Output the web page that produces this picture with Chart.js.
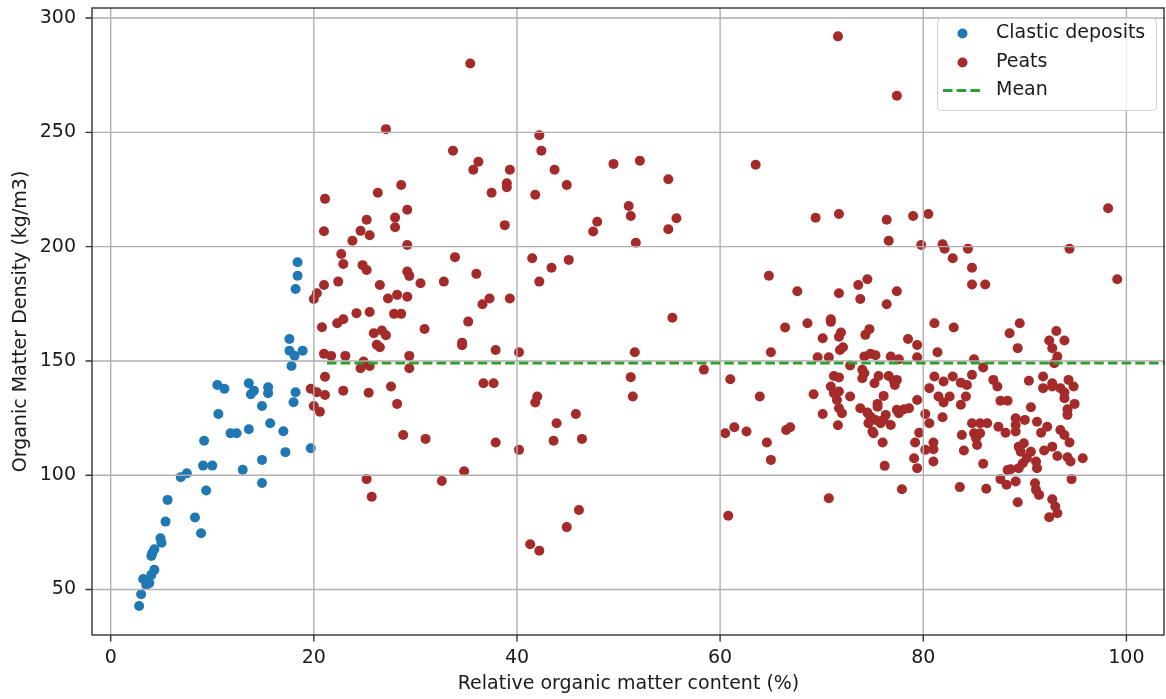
<!DOCTYPE html>
<html>
<head>
<meta charset="utf-8">
<script src="https://cdn.jsdelivr.net/npm/chart.js@4"></script>
<style>
  html, body { margin: 0; padding: 0; background: #fff; }
  #wrap { width: 1166px; height: 699px; }
</style>
</head>
<body>
<div id="wrap"><canvas id="chart" width="1166" height="699"></canvas></div>
<script>
// values
const clasticX = [18.4, 18.4, 18.2, 17.6, 17.6, 18.9, 18.1, 17.8, 10.5, 11.2, 13.6, 13.8, 14.1, 15.5, 15.5, 18.2, 18.0,
    14.9, 10.6, 15.7, 17.0, 13.6, 11.8, 12.4, 9.2, 17.2, 19.7, 9.1, 10.0, 14.9, 13.0, 7.5, 6.9, 14.9, 9.4, 5.6, 5.4,
    8.3, 8.9, 4.9, 5.0, 4.3, 4.1, 4.0, 4.3, 4.0, 3.2, 3.6, 3.8, 3.5, 3.0, 2.8];
const clasticY = [193.2, 187.3, 181.5, 159.6, 154.5, 154.5, 152.3, 147.8, 139.5, 137.8, 140.2, 135.4, 137.0, 138.5, 135.9,
    136.3, 131.9, 130.3, 126.8, 122.7, 119.2, 120.1, 118.4, 118.4, 115.1, 110.1, 111.8, 104.2, 104.2, 106.7, 102.4,
    100.9, 99.1, 96.6, 93.3, 89.2, 79.7, 81.5, 74.6, 72.4, 70.5, 67.6, 66.0, 64.7, 58.6, 56.4, 54.6, 54.0, 52.8, 52.0,
    47.9, 42.8];

const peatX = [21.1, 21.0, 21.0, 20.3, 20.0, 20.8, 21.0, 21.1, 19.7, 20.3, 21.1, 20.0, 20.6, 35.4, 27.1, 42.2, 42.4,
    33.7, 36.2, 35.7, 39.3, 43.7, 39.0, 39.0, 28.6, 26.3, 37.5, 41.8, 29.2, 28.0, 28.0, 25.2, 24.6, 25.5, 23.8, 38.8,
    29.2, 22.7, 33.9, 41.5, 22.9, 24.8, 25.2, 43.4, 42.2, 29.2, 29.4, 22.4, 26.5, 30.5, 32.8, 36.0, 27.3, 28.2, 29.2,
    37.3, 36.6, 39.3, 24.2, 25.5, 22.3, 22.9, 27.9, 28.6, 35.2, 25.9, 26.7, 27.1, 26.2, 26.5, 30.9, 34.6, 34.6, 37.9,
    40.2, 21.7, 23.1, 24.9, 25.5, 24.6, 29.4, 29.4, 22.9, 25.4, 27.6, 28.2, 36.7, 37.7, 42.0, 41.8, 43.9, 43.6, 28.8,
    31.0, 37.9, 40.2, 25.2, 25.7, 32.6, 34.8, 41.3, 42.2, 44.9, 49.5, 52.1, 54.9, 51.0, 51.2, 47.9, 47.5, 55.7, 54.9,
    51.7, 45.1, 55.3, 51.6, 51.2, 51.4, 58.4, 61.0, 45.8, 46.4, 60.5, 61.4, 46.1, 44.9, 60.8, 71.6, 77.4, 63.5, 69.4,
    71.7, 76.4, 76.6, 79.0, 80.5, 79.8, 81.9, 82.1, 84.4, 94.4, 98.2, 82.9, 84.8, 84.8, 86.1, 99.1, 81.1, 83.0, 78.5,
    79.4, 79.4, 81.4, 88.5, 89.5, 89.3, 93.1, 93.9, 92.4, 92.7, 93.2, 92.9, 85.0, 85.9, 81.1, 82.0, 82.9, 83.7, 84.3,
    84.8, 80.6, 81.5, 82.6, 82.0, 84.2, 83.7, 79.4, 80.2, 80.6, 81.9, 79.6, 79.2, 80.2, 81.0, 81.0, 79.1, 79.4, 81.0,
    77.9, 83.8, 84.0, 85.9, 83.6, 86.2, 84.8, 85.6, 86.3, 85.0, 85.6, 85.2, 85.3, 86.9, 87.3, 87.6, 88.3, 87.4, 88.1,
    89.1, 89.1, 90.0, 89.1, 90.6, 90.4, 91.8, 91.8, 92.7, 92.7, 93.5, 93.9, 94.3, 94.8, 93.9, 94.9, 94.2, 94.2, 91.2,
    91.6, 92.2, 93.5, 93.9, 94.4, 89.4, 89.9, 89.6, 90.6, 91.1, 90.2, 91.9, 92.7, 93.2, 94.2, 94.5, 95.7, 89.8, 89.4,
    88.6, 88.3, 91.2, 87.6, 88.2, 89.1, 91.0, 91.1, 91.4, 94.6, 89.3, 92.7, 93.0, 93.2, 92.4, 64.8, 67.6, 71.7, 73.6,
    74.5, 73.8, 77.4, 76.4, 66.4, 68.6, 70.9, 70.9, 70.1, 71.7, 71.9, 74.3, 74.7, 65.0, 71.8, 72.1, 69.6, 70.7, 72.8,
    74.2, 74.8, 75.3, 76.8, 77.6, 74.0, 74.0, 74.2, 71.2, 71.7, 70.9, 71.2, 71.7, 72.8, 71.5, 71.7, 72.0, 75.6, 76.6,
    77.1, 77.4, 75.2, 77.2, 76.1, 75.5, 75.5, 69.2, 63.9, 70.1, 71.6, 73.8, 74.5, 74.8, 75.3, 76.3, 76.1, 74.6, 75.0,
    75.8, 76.8, 77.4, 78.1, 78.6, 77.6, 76.0, 75.1, 76.2, 62.6, 64.6, 65.0, 66.5, 66.9, 70.7];
const peatY = [220.9, 206.7, 183.2, 179.6, 177.1, 164.7, 153.1, 143.1, 137.8, 136.3, 135.1, 130.3, 127.8, 280.1, 251.4,
    248.7, 242.0, 242.0, 237.1, 233.6, 233.6, 233.6, 227.7, 226.0, 227.0, 223.6, 223.6, 222.7, 216.1, 212.7, 208.5,
    211.8, 206.9, 205.0, 202.6, 209.4, 200.7, 196.8, 195.4, 194.9, 192.4, 191.9, 189.8, 190.8, 184.7, 189.1, 187.2,
    184.7, 183.2, 184.0, 184.7, 188.1, 177.3, 178.9, 178.1, 177.3, 174.8, 177.3, 170.9, 171.4, 166.5, 168.2, 170.6,
    170.6, 167.2, 162.1, 163.3, 161.2, 157.1, 156.0, 164.0, 158.0, 156.9, 154.8, 153.8, 152.2, 152.2, 149.7, 147.8,
    146.8, 152.2, 146.8, 137.0, 136.1, 138.8, 131.2, 140.2, 140.2, 134.4, 131.8, 122.7, 115.1, 117.6, 115.9, 114.3,
    111.1, 98.3, 90.6, 97.5, 101.7, 69.8, 67.0, 227.0, 236.2, 237.6, 229.5, 217.8, 213.4, 210.9, 206.6, 212.4, 207.6,
    201.7, 194.2, 168.9, 153.8, 142.9, 134.4, 146.2, 142.0, 126.8, 115.9, 118.4, 121.0, 84.8, 77.3, 82.3, 292.0, 266.0,
    235.8, 212.6, 214.3, 211.8, 202.6, 213.4, 214.3, 200.7, 201.0, 199.1, 199.1, 199.1, 216.8, 194.9, 190.8, 183.4,
    183.4, 185.7, 166.5, 164.6, 159.6, 157.0, 151.6, 153.8, 162.1, 166.5, 155.6, 163.1, 158.9, 158.9, 155.6, 151.9,
    149.0, 150.7, 147.1, 143.2, 141.0, 143.2, 140.5, 139.5, 143.9, 138.1, 134.4, 134.4, 131.8, 134.4, 130.8, 132.9,
    126.8, 122.7, 125.4, 118.6, 114.3, 111.1, 114.3, 111.4, 107.4, 103.1, 106.0, 93.9, 117.6, 110.8, 105.0, 94.8, 94.1,
    122.7, 122.7, 122.7, 118.4, 118.4, 116.2, 113.2, 141.7, 138.8, 132.6, 132.6, 121.2, 118.6, 124.9, 122.0, 124.2,
    119.1, 129.7, 141.3, 143.2, 138.1, 140.2, 138.8, 138.1, 136.2, 141.7, 138.8, 133.7, 131.2, 128.9, 126.4, 123.4,
    118.6, 121.2, 119.8, 117.6, 114.3, 112.5, 114.0, 110.3, 110.3, 106.0, 107.4, 110.8, 112.5, 108.4, 107.9, 106.0,
    107.4, 105.2, 103.1, 102.6, 102.3, 103.1, 98.3, 95.8, 97.3, 96.5, 93.6, 91.4, 98.3, 88.2, 89.5, 86.3, 83.4, 81.6,
    187.3, 180.5, 179.6, 183.2, 185.7, 177.1, 180.5, 174.8, 164.6, 166.5, 168.2, 167.1, 159.9, 160.6, 162.4, 161.4,
    163.9, 153.8, 154.8, 156.0, 151.6, 151.6, 148.0, 151.9, 153.1, 152.5, 151.9, 150.7, 146.1, 142.4, 144.6, 143.4,
    142.8, 138.8, 135.9, 136.6, 134.4, 132.9, 129.3, 127.1, 143.4, 143.4, 141.3, 141.7, 140.2, 139.5, 134.7, 131.2,
    130.0, 135.4, 134.4, 126.8, 121.9, 129.3, 127.4, 125.6, 124.2, 126.4, 124.2, 122.7, 119.1, 122.7, 122.0, 128.6,
    128.9, 129.3, 127.1, 114.3, 118.4, 104.1, 119.1, 114.3, 106.7, 119.8, 121.0, 89.9];

const meanValue = 149;
const meanX = [21.3, 105];

const xTicks = [0, 20, 40, 60, 80, 100];
const yTicks = [50, 100, 150, 200, 250, 300];

const FONT = "'DejaVu Sans', sans-serif";
const TEXT = "#1a1a1a";
const SPINE = "#333333";

function toPoints(xs, ys) {
    return xs.map((x, i) => ({ x: x, y: ys[i] }));
}

// keep the plot box where matplotlib put it, no extra room for edge labels
function pinScale(s, size) {
    if (s.isHorizontal()) s.height = size;
    else s.width = size;
    s.paddingTop = 0;
    s.paddingBottom = 0;
    s.paddingLeft = 0;
    s.paddingRight = 0;
}

// grid on top of the dots but under the mean line, ticks and frame last
const axesPlugin = {
    id: "mplAxes",
    beforeDatasetDraw(chart, args) {
        if (args.index !== 2) return;
        const { ctx, chartArea: a, scales: { x, y } } = chart;
        ctx.save();
        ctx.strokeStyle = "#b0b0b0";
        ctx.lineWidth = 1.4;
        ctx.beginPath();
        xTicks.forEach((v) => {
            const px = x.getPixelForValue(v);
            ctx.moveTo(px, a.top);
            ctx.lineTo(px, a.bottom);
        });
        yTicks.forEach((v) => {
            const py = y.getPixelForValue(v);
            ctx.moveTo(a.left, py);
            ctx.lineTo(a.right, py);
        });
        ctx.stroke();
        ctx.restore();
    },
    afterDraw(chart) {
        const { ctx, chartArea: a, scales: { x, y } } = chart;
        ctx.save();
        ctx.strokeStyle = SPINE;
        ctx.lineWidth = 1.4;
        ctx.strokeRect(a.left, a.top, a.right - a.left - 1, a.bottom - a.top);
        ctx.beginPath();
        xTicks.forEach((v) => {
            const px = x.getPixelForValue(v);
            ctx.moveTo(px, a.bottom);
            ctx.lineTo(px, a.bottom + 6.5);
        });
        yTicks.forEach((v) => {
            const py = y.getPixelForValue(v);
            ctx.moveTo(a.left, py);
            ctx.lineTo(a.left - 6.5, py);
        });
        ctx.stroke();

        // legend box, upper right
        const bx = 937, by = 18, bw = 219, bh = 92;
        ctx.fillStyle = "rgba(255,255,255,0.8)";
        ctx.strokeStyle = "#d0d0d0";
        ctx.lineWidth = 1;
        ctx.beginPath();
        ctx.roundRect(bx + 0.5, by + 0.5, bw, bh, 4);
        ctx.fill();
        ctx.stroke();

        ctx.font = "19px " + FONT;
        ctx.textBaseline = "middle";
        ctx.textAlign = "left";
        const rows = [33.5, 62.5, 90.5];
        chart.data.datasets.forEach((ds, i) => {
            const ry = rows[i];
            if (ds.showLine) {
                ctx.strokeStyle = ds.borderColor;
                ctx.lineWidth = ds.borderWidth;
                ctx.setLineDash(ds.borderDash);
                ctx.beginPath();
                ctx.moveTo(943, ry);
                ctx.lineTo(982, ry);
                ctx.stroke();
                ctx.setLineDash([]);
            } else {
                ctx.fillStyle = ds.backgroundColor;
                ctx.beginPath();
                ctx.arc(962.5, ry, ds.pointRadius, 0, Math.PI * 2);
                ctx.fill();
            }
            ctx.fillStyle = TEXT;
            ctx.fillText(ds.label, 996, ry);
        });
        ctx.restore();
    },
};

new Chart(document.getElementById("chart"), {
    type: "scatter",
    data: {
        datasets: [
            {
                label: "Clastic deposits",
                data: toPoints(clasticX, clasticY),
                backgroundColor: "#1f77b4",
                pointRadius: 5,
                pointBorderWidth: 0,
                order: 2,
            },
            {
                label: "Peats",
                data: toPoints(peatX, peatY),
                backgroundColor: "#a52a2a",
                pointRadius: 5,
                pointBorderWidth: 0,
                order: 1,
            },
            {
                label: "Mean",
                data: meanX.map((x) => ({ x: x, y: meanValue })),
                showLine: true,
                borderColor: "#2ca02c",
                borderWidth: 2.8,
                borderDash: [9.5, 4.2],
                pointRadius: 0,
                order: 0,
            },
        ],
    },
    options: {
        responsive: false,
        animation: false,
        layout: { autoPadding: false, padding: { top: 8, right: 1, left: 0, bottom: 0 } },
        plugins: { legend: { display: false }, tooltip: { enabled: false } },
        scales: {
            x: {
                type: "linear",
                min: -1.84,
                max: 103.8,
                afterBuildTicks: (s) => { s.ticks = xTicks.map((v) => ({ value: v })); },
                afterFit: (s) => pinScale(s, 64),
                grid: { display: false },
                border: { display: false },
                ticks: { color: TEXT, font: { size: 19, family: FONT }, padding: 4, maxRotation: 0 },
                title: {
                    display: true,
                    text: "Relative organic matter content (%)",
                    color: TEXT,
                    font: { size: 19, family: FONT },
                    padding: { top: 0, bottom: 4 },
                },
            },
            y: {
                type: "linear",
                min: 30.1,
                max: 304.4,
                afterBuildTicks: (s) => { s.ticks = yTicks.map((v) => ({ value: v })); },
                afterFit: (s) => pinScale(s, 92),
                grid: { display: false },
                border: { display: false },
                ticks: { color: TEXT, font: { size: 19, family: FONT }, padding: 8 },
                title: {
                    display: true,
                    text: "Organic Matter Density (kg/m3)",
                    color: TEXT,
                    font: { size: 19, family: FONT },
                    padding: { top: 10, bottom: 0 },
                },
            },
        },
    },
    plugins: [axesPlugin],
});
</script>
</body>
</html>
